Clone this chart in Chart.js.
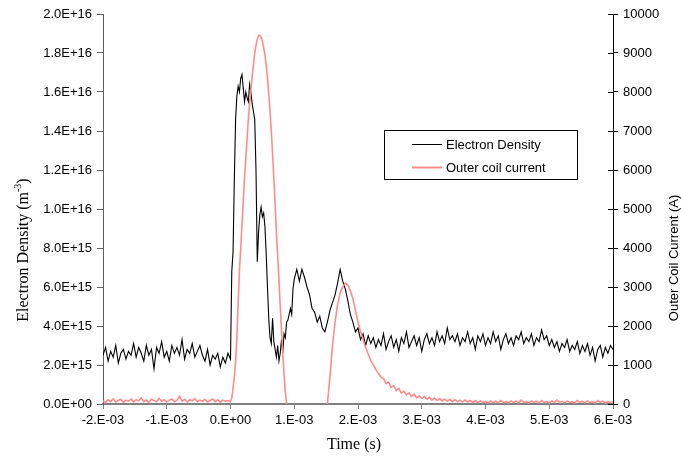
<!DOCTYPE html>
<html>
<head>
<meta charset="utf-8">
<script src="https://cdn.jsdelivr.net/npm/chart.js@4.4.0/dist/chart.umd.min.js"></script>
<style>
  html, body { margin: 0; padding: 0; background: #fff; }
  canvas { display: block; }
</style>
</head>
<body>
<canvas id="myChart" width="681" height="459"></canvas>
<script>
// Tiempos (s): tres tramos con paso fijo
const preStart = -0.002, preStep = 0.00004;     // -2.00 ms .. -0.04 ms
const pulseStart = 0, pulseStep = 0.00002;      //  0.00 ms ..  1.00 ms
const postStart = 0.00104, postStep = 0.00004;  //  1.04 ms ..  6.00 ms

// Densidad electronica (x 1E15 m^-3)
const densityPre = [
  2.5, 2.9, 2.2, 2.7, 2.4, 3.0, 2.1, 2.6, 2.8, 2.3,
  2.7, 2.5, 3.1, 2.4, 2.9, 2.6, 2.2, 3.0, 2.5, 2.8,
  1.8, 2.9, 2.6, 3.2, 2.4, 2.7, 2.2, 3.0, 2.6, 2.9,
  2.5, 3.3, 2.3, 2.8, 2.6, 3.1, 2.4, 2.7, 3.0, 2.5,
  2.2, 2.8, 2.0, 2.5, 2.3, 2.6, 1.9, 2.4, 2.1, 2.6
];
const densityPulse = [
  2.3, 6.8, 7.8, 11.5, 14.6, 15.8, 16.3, 16.0, 16.7, 16.9,
  16.2, 15.5, 16.0, 15.7, 15.5, 16.4, 16.0, 15.4, 15.0, 14.6,
  12.0, 7.3, 8.8, 9.7, 10.1, 9.6, 9.8, 9.1, 7.7, 6.0,
  4.4, 3.4, 3.1, 4.4, 3.2, 2.8, 2.4, 3.0, 2.2, 2.6,
  3.3, 2.6, 3.6, 3.4, 4.2, 4.3, 4.6, 4.9, 4.6, 5.9,
  6.4
];
const densityPost = [
  6.9, 6.3, 6.9, 6.5, 6.0, 5.6, 4.9, 4.7, 4.2, 4.5,
  3.9, 3.7, 4.2, 4.8, 5.2, 5.6, 6.2, 6.9, 6.3, 5.9,
  5.3, 4.6, 4.2, 3.7, 3.9, 3.3, 3.6, 3.0, 3.5, 3.1,
  3.4, 2.9, 3.3, 3.0, 3.6, 2.8, 3.2, 3.5, 2.9, 3.3,
  2.7, 3.4, 3.1, 3.7, 2.9, 3.2, 3.5, 3.0, 3.4, 2.7,
  3.3, 3.6, 3.1, 3.4, 3.0, 3.7, 3.2, 3.5, 3.1, 3.9,
  3.3, 3.5, 3.2, 3.6, 3.0, 3.4, 3.2, 3.7, 3.1, 3.4,
  2.8, 3.5, 3.2, 3.6, 3.0, 3.4, 3.1, 3.7, 3.2, 3.5,
  2.8, 3.3, 3.6, 3.1, 3.4, 3.0, 3.5, 3.3, 3.7, 3.1,
  3.4, 3.2, 3.6, 3.0, 3.4, 3.2, 3.8, 3.3, 3.5, 3.0,
  3.3, 2.9, 3.2, 2.7, 3.1, 2.9, 3.3, 2.7, 3.0, 2.8,
  3.2, 2.6, 3.0, 2.7, 3.1, 2.5, 2.9, 2.2, 2.8, 3.0,
  2.4, 2.9, 2.6, 3.0, 2.8
];

// Corriente bobina exterior (A)
const currentPre = [
  80, 40, 110, 60, 130, 50, 90, 120, 40, 100,
  70, 130, 50, 110, 80, 150, 60, 100, 40, 120,
  90, 60, 140, 70, 110, 50, 100, 130, 60, 90,
  200, 70, 120, 50, 110, 80, 140, 60, 100, 70,
  120, 50, 90, 130, 60, 110, 40, 100, 70, 90
];
const currentPulse = [
  60, 150, 400, 700, 1100, 1700, 2600, 3400, 4000, 4600,
  5200, 5800, 6300, 6800, 7300, 7700, 8050, 8400, 8700, 9000,
  9200, 9350, 9450, 9450, 9400, 9300, 9150, 8950, 8700, 8350,
  7950, 7500, 7000, 6400, 5800, 5100, 4400, 3800, 3200, 2500,
  1900, 1300, 750, 300, 0, null, null, null, null, null,
  null
];
const currentPost = [
  null, null, null, null, null, null, null, null, null, null,
  null, null, 0, 700, 1500, 2100, 2550, 2850, 3000, 3100,
  3050, 2900, 2700, 2400, 2100, 1850, 1650, 1450, 1280, 1120,
  1000, 880, 780, 690, 650, 520, 560, 420, 470, 340,
  400, 280, 330, 230, 290, 190, 250, 160, 210, 140,
  190, 120, 170, 100, 150, 90, 140, 80, 130, 70,
  120, 60, 110, 60, 100, 50, 100, 50, 90, 40,
  90, 40, 80, 40, 60, 30, 80, 40, 70, 30,
  90, 40, 60, 30, 80, 40, 70, 30, 100, 40,
  60, 30, 80, 40, 70, 30, 90, 40, 60, 30,
  80, 40, 100, 50, 70, 30, 80, 40, 60, 30,
  90, 40, 70, 30, 80, 40, 60, 30, 90, 40,
  70, 30, 60, 40, 50
];

const xTicks = { min: -0.002, max: 0.006, step: 0.001 };
const yLeftTicks = { min: 0, max: 2e16, step: 2e15 };
const yRightTicks = { min: 0, max: 10000, step: 1000 };

const seriesNames = ["Electron Density", "Outer coil current"];
const seriesColors = ["#000000", "#ff8c8c"];

(() => {
    const ctx = document.getElementById('myChart').getContext('2d');
    const FONT = "'Liberation Sans', Arial, sans-serif";
    const SERIF = "'Liberation Serif', 'Times New Roman', serif";

    const toPoints = (start, step, values, k) =>
        values.map((v, i) => ({ x: start + i * step, y: v === null ? null : v * k }));

    const densityData = [].concat(
        toPoints(preStart, preStep, densityPre, 1e15),
        toPoints(pulseStart, pulseStep, densityPulse, 1e15),
        toPoints(postStart, postStep, densityPost, 1e15)
    );
    const currentData = [].concat(
        toPoints(preStart, preStep, currentPre, 1),
        toPoints(pulseStart, pulseStep, currentPulse, 1),
        toPoints(postStart, postStep, currentPost, 1)
    );

    // 2.0E+16 / 0.0E+00
    const fmtLeft = (v) => {
        const [m, e] = Number(v).toExponential(1).split('e');
        const n = parseInt(e);
        return m + 'E' + (n < 0 ? '-' : '+') + String(Math.abs(n)).padStart(2, '0');
    };
    // -2.E-03 / 0.E+00
    const fmtX = (v) => {
        const [m, e] = Number(v).toExponential(0).split('e');
        const n = parseInt(e);
        return m + '.E' + (n < 0 ? '-' : '+') + String(Math.abs(n)).padStart(2, '0');
    };

    // titulos de ejes, leyenda y marcas del eje derecho
    const extras = {
        id: 'extras',
        afterDraw: (chart) => {
            const c = chart.ctx;
            const area = chart.chartArea;
            c.save();

            // marcas internas del eje derecho
            const yr = chart.scales.y1;
            c.strokeStyle = '#000';
            c.lineWidth = 1;
            yr.ticks.forEach(t => {
                const py = Math.round(yr.getPixelForValue(t.value)) + 0.5;
                c.beginPath();
                c.moveTo(area.right - 5, py);
                c.lineTo(area.right, py);
                c.stroke();
            });

            c.fillStyle = '#000';
            // eje izquierdo: Electron Density (m-3)
            c.save();
            c.translate(24, 250);
            c.rotate(-Math.PI / 2);
            c.textBaseline = 'middle';
            const big = "16px " + SERIF, small = "10px " + SERIF;
            const p1 = "Electron Density (m", p2 = "-3", p3 = ")";
            c.font = big; const w1 = c.measureText(p1).width, w3 = c.measureText(p3).width;
            c.font = small; const w2 = c.measureText(p2).width;
            let x0 = -(w1 + w2 + w3) / 2;
            c.font = big; c.textAlign = 'left';
            c.fillText(p1, x0, 0);
            c.font = small; c.fillText(p2, x0 + w1, -6);
            c.font = big; c.fillText(p3, x0 + w1 + w2, 0);
            c.restore();

            // eje derecho
            c.save();
            c.translate(674, 258);
            c.rotate(-Math.PI / 2);
            c.font = "13px " + FONT;
            c.textAlign = 'center';
            c.textBaseline = 'middle';
            c.fillText("Outer Coil Current (A)", 0, 0);
            c.restore();

            // eje x
            c.font = "16px " + SERIF;
            c.textAlign = 'center';
            c.textBaseline = 'middle';
            c.fillText("Time (s)", 354, 445);

            // leyenda
            c.fillStyle = '#fff';
            c.fillRect(384.5, 130.5, 193, 49);
            c.strokeStyle = '#000';
            c.lineWidth = 1;
            c.strokeRect(384.5, 130.5, 193, 49);
            c.font = "13px " + FONT;
            c.textAlign = 'left';
            const rows = [144, 167];
            chart.data.datasets.forEach((ds, i) => {
                c.strokeStyle = ds.borderColor;
                c.lineWidth = i === 0 ? 1 : 2;
                c.beginPath();
                c.moveTo(412, rows[i] + 0.5);
                c.lineTo(442, rows[i] + 0.5);
                c.stroke();
                c.fillStyle = '#000';
                c.fillText(ds.label, 446, rows[i] + 1);
            });
            c.restore();
        }
    };

    const grafica = new Chart(ctx, {
        type: 'line',
        data: {
            datasets: [{
                label: seriesNames[0],
                data: densityData,
                borderColor: seriesColors[0],
                borderWidth: 1.1,
                pointRadius: 0,
                tension: 0,
                yAxisID: 'y',
                order: 1
            }, {
                label: seriesNames[1],
                data: currentData,
                borderColor: seriesColors[1],
                borderWidth: 1.6,
                pointRadius: 0,
                tension: 0,
                spanGaps: false,
                yAxisID: 'y1',
                order: 0
            }]
        },
        options: {
            responsive: false,
            animation: false,
            layout: { padding: { top: 14, left: 0, right: 0, bottom: 0 } },
            plugins: {
                legend: { display: false },
                tooltip: { enabled: false }
            },
            scales: {
                x: {
                    type: 'linear',
                    min: xTicks.min,
                    max: xTicks.max,
                    afterFit: (s) => { s.height = 55; },
                    ticks: {
                        stepSize: xTicks.step,
                        callback: (v) => fmtX(v),
                        color: '#000',
                        font: { family: FONT, size: 13 },
                        padding: 4,
                        maxRotation: 0
                    },
                    grid: { drawOnChartArea: false, tickLength: 5, color: '#808080' },
                    border: { color: '#808080', width: 2 }
                },
                y: {
                    position: 'left',
                    min: yLeftTicks.min,
                    max: yLeftTicks.max,
                    afterFit: (s) => { s.width = 103; },
                    ticks: {
                        stepSize: yLeftTicks.step,
                        callback: (v) => fmtLeft(v),
                        color: '#000',
                        font: { family: FONT, size: 13 },
                        padding: 5
                    },
                    grid: { drawOnChartArea: false, tickLength: 6, color: '#606060' },
                    border: { color: '#606060', width: 1 }
                },
                y1: {
                    position: 'right',
                    min: yRightTicks.min,
                    max: yRightTicks.max,
                    afterFit: (s) => { s.width = 68; },
                    ticks: {
                        stepSize: yRightTicks.step,
                        callback: (v) => String(Math.round(v)),
                        color: '#000',
                        font: { family: FONT, size: 13 },
                        padding: 5
                    },
                    grid: { drawOnChartArea: false, tickLength: 5, color: '#000' },
                    border: { color: '#000', width: 1 }
                }
            }
        },
        plugins: [extras]
    });
})();
</script>
</body>
</html>
